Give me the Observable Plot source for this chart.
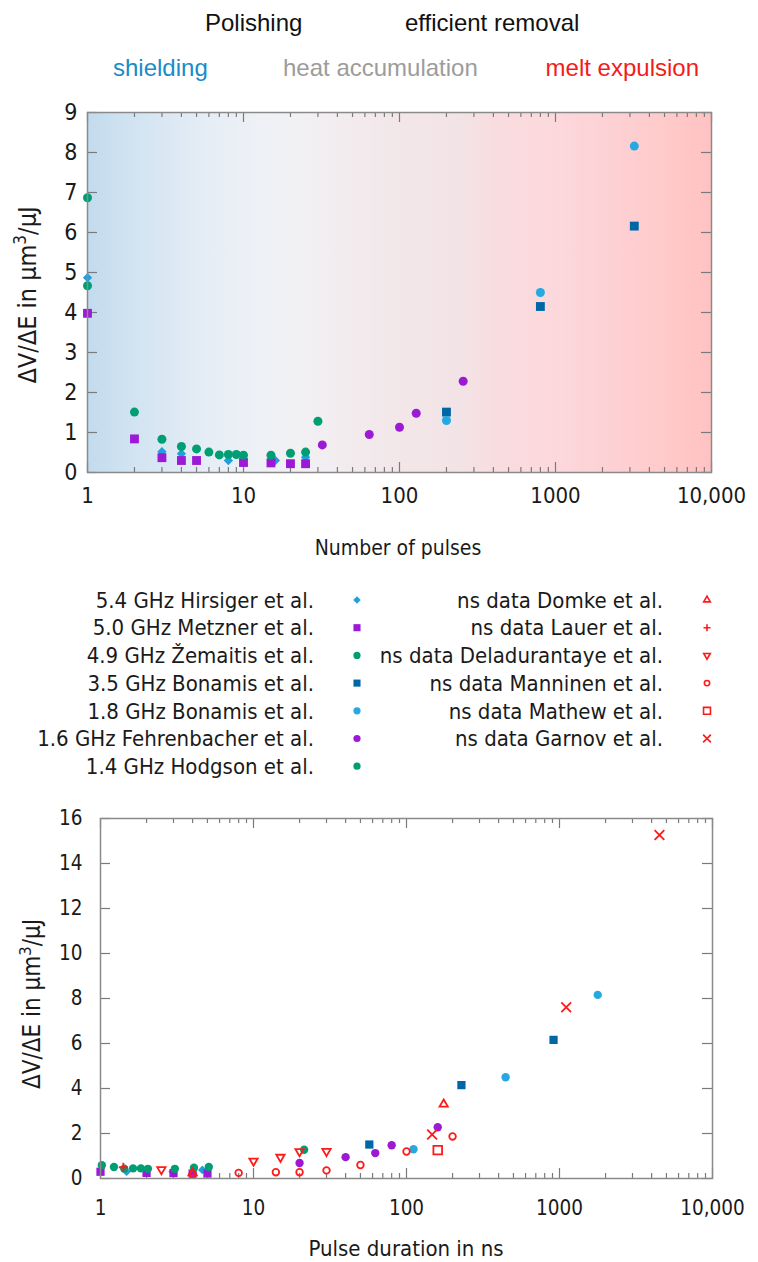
<!DOCTYPE html>
<html>
<head>
<meta charset="utf-8">
<script src="https://cdn.jsdelivr.net/npm/d3@7"></script>
<script src="https://cdn.jsdelivr.net/npm/@observablehq/plot@0.6"></script>
<style>
  html, body { margin: 0; padding: 0; background: #fff; }
  #page { position: relative; width: 758px; height: 1262px; overflow: hidden; background: #fff; }
  #page > svg { position: absolute; left: 0; }
</style>
</head>
<body>
<div id="page"></div>
<script>
// ---------------- data ----------------
// GHz-burst studies: number of pulses in the burst and removal efficiency ΔV/ΔE (µm³/µJ)
const hirsigerPulses = [1, 3, 4, 8, 16, 25];
const hirsigerEff = [4.87, 0.52, 0.47, 0.30, 0.30, 0.38];
const metznerPulses = [1, 2, 3, 4, 5, 10, 15, 20, 25];
const metznerEff = [3.98, 0.84, 0.37, 0.30, 0.30, 0.25, 0.24, 0.22, 0.22];
const zemaitisPulses = [1, 2, 3, 4, 5, 6, 7, 8, 9, 10, 15, 20, 25];
const zemaitisEff = [6.87, 1.51, 0.83, 0.65, 0.59, 0.51, 0.44, 0.45, 0.45, 0.43, 0.43, 0.48, 0.51];
const bonamis35Pulses = [200, 800, 3200];
const bonamis35Eff = [1.51, 4.15, 6.16];
const bonamis18Pulses = [200, 800, 3200];
const bonamis18Eff = [1.30, 4.50, 8.16];
const fehrenbacherPulses = [32, 64, 100, 128, 256];
const fehrenbacherEff = [0.69, 0.95, 1.13, 1.48, 2.28];
const hodgsonPulses = [1, 30];
const hodgsonEff = [4.67, 1.28];

// nanosecond single-pulse studies: pulse duration (ns) and ΔV/ΔE (µm³/µJ)
const domkeDuration = [4, 175];
const domkeEff = [0.25, 3.30];
const lauerDuration = [1.41];
const lauerEff = [0.50];
const deladurantayeDuration = [2.5, 10, 15, 20, 30];
const deladurantayeEff = [0.40, 0.78, 0.95, 1.20, 1.21];
const manninenDuration = [4, 8, 14, 20, 30, 50, 100, 200];
const manninenEff = [0.18, 0.25, 0.28, 0.28, 0.36, 0.60, 1.20, 1.87];
const mathewDuration = [160];
const mathewEff = [1.26];
const garnovDuration = [147, 1106, 4500];
const garnovEff = [1.96, 7.61, 15.27];

// axis ticks
const xTicksMajor = [1, 10, 100, 1000, 10000];
const xTickLabels = ["1", "10", "100", "1000", "10,000"];
const topYTicks = [0, 1, 2, 3, 4, 5, 6, 7, 8, 9];
const bottomYTicks = [0, 2, 4, 6, 8, 10, 12, 14, 16];
const xTicksMinor = [1, 10, 100, 1000].flatMap(d => [2, 3, 4, 5, 6, 7, 8, 9].map(k => d * k));

// process-regime annotations above the first chart
const regimeTop = ["Polishing", "efficient removal"];
const regimeBottom = ["shielding", "heat accumulation", "melt expulsion"];

// ---------------- symbols ----------------
const triangleUp = {
  draw(ctx, size) {
    const r = Math.sqrt(size / Math.PI) * 1.2;
    ctx.moveTo(0, -r);
    ctx.lineTo(r * 0.866, r * 0.5);
    ctx.lineTo(-r * 0.866, r * 0.5);
    ctx.closePath();
  }
};
const triangleDown = {
  draw(ctx, size) {
    const r = Math.sqrt(size / Math.PI) * 1.2;
    ctx.moveTo(0, r);
    ctx.lineTo(r * 0.866, -r * 0.5);
    ctx.lineTo(-r * 0.866, -r * 0.5);
    ctx.closePath();
  }
};

const purple = "#9c1ad6", green = "#009e73", navy = "#0067a6", sky = "#26a9e2", azure = "#1f9fdc", red = "#ff1a1a";

const ghzStudies = [
  {label: "5.4 GHz Hirsiger et al.", ghz: 5.4, pulses: hirsigerPulses, eff: hirsigerEff, symbol: d3.symbolDiamond2, color: azure, r: 4.2},
  {label: "5.0 GHz Metzner et al.", ghz: 5.0, pulses: metznerPulses, eff: metznerEff, symbol: d3.symbolSquare, color: purple, r: 5.0},
  {label: "4.9 GHz Žemaitis et al.", ghz: 4.9, pulses: zemaitisPulses, eff: zemaitisEff, symbol: d3.symbolCircle, color: green, r: 4.5},
  {label: "3.5 GHz Bonamis et al.", ghz: 3.5, pulses: bonamis35Pulses, eff: bonamis35Eff, symbol: d3.symbolSquare, color: navy, r: 5.0},
  {label: "1.8 GHz Bonamis et al.", ghz: 1.8, pulses: bonamis18Pulses, eff: bonamis18Eff, symbol: d3.symbolCircle, color: sky, r: 4.5},
  {label: "1.6 GHz Fehrenbacher et al.", ghz: 1.6, pulses: fehrenbacherPulses, eff: fehrenbacherEff, symbol: d3.symbolCircle, color: purple, r: 4.5},
  {label: "1.4 GHz Hodgson et al.", ghz: 1.4, pulses: hodgsonPulses, eff: hodgsonEff, symbol: d3.symbolCircle, color: green, r: 4.5}
];
const nsStudies = [
  {label: "ns data Domke et al.", duration: domkeDuration, eff: domkeEff, symbol: triangleUp, r: 4.0},
  {label: "ns data Lauer et al.", duration: lauerDuration, eff: lauerEff, symbol: d3.symbolPlus, r: 3.0},
  {label: "ns data Deladurantaye et al.", duration: deladurantayeDuration, eff: deladurantayeEff, symbol: triangleDown, r: 4.0},
  {label: "ns data Manninen et al.", duration: manninenDuration, eff: manninenEff, symbol: d3.symbolCircle, r: 3.3},
  {label: "ns data Mathew et al.", duration: mathewDuration, eff: mathewEff, symbol: d3.symbolSquare2, r: 5.5},
  {label: "ns data Garnov et al.", duration: garnovDuration, eff: garnovEff, symbol: d3.symbolTimes, r: 4.5}
];

// ---------------- shared styling ----------------
const gnuFont = "'DejaVu Sans Condensed', 'DejaVu Sans', sans-serif";
const tickColor = "#7a7a7a";
const frameColor = "#8a8a8a";
const page = d3.select("#page");

// inward gnuplot-style ticks on all four sides
function frameTicks(plotW, plotH, yTicks) {
  const common = {stroke: tickColor, strokeWidth: 1.2};
  return [
    Plot.tickX(xTicksMinor, {x: d => d, insetTop: plotH - 5, ...common}),
    Plot.tickX(xTicksMinor, {x: d => d, insetBottom: plotH - 5, ...common}),
    Plot.tickX(xTicksMajor, {x: d => d, insetTop: plotH - 10, ...common}),
    Plot.tickX(xTicksMajor, {x: d => d, insetBottom: plotH - 10, ...common}),
    Plot.tickY(yTicks, {y: d => d, insetRight: plotW - 10, ...common}),
    Plot.tickY(yTicks, {y: d => d, insetLeft: plotW - 10, ...common})
  ];
}

// ---------------- chart 1: number of pulses ----------------
const t = {top: 80, left: 87, right: 47, mTop: 32, plotH: 360, mBottom: 60};
const tPlotW = 758 - t.left - t.right;

// colour zones: shielding (blue) → heat accumulation (grey) → melt expulsion (red)
const zoneStops = [
  [1, "#c2dbee"], [2, "#d2e4f2"], [5, "#e3ecf5"], [10, "#ecf0f6"], [20, "#f1f1f4"],
  [50, "#f2ebee"], [100, "#f3e6e9"], [250, "#f2e3e6"], [400, "#f8dde0"], [1000, "#fcd8dc"],
  [2500, "#fdd0d3"], [5000, "#ffcaca"], [10000, "#ffc2c2"]
];
const zoneGradient = (index, scales, values, dimensions) => {
  const defs = d3.create("svg:defs");
  const g = defs.append("linearGradient").attr("id", "zoneGradient")
    .attr("x1", 0).attr("x2", 1).attr("y1", 0).attr("y2", 0);
  const x0 = dimensions.marginLeft, x1 = dimensions.width - dimensions.marginRight;
  for (const [at, color] of zoneStops) {
    g.append("stop").attr("offset", (scales.x(at) - x0) / (x1 - x0)).attr("stop-color", color);
  }
  return defs.node();
};

const topChart = Plot.plot({
  width: 758,
  height: t.mTop + t.plotH + t.mBottom,
  marginLeft: t.left, marginRight: t.right, marginTop: t.mTop, marginBottom: t.mBottom,
  style: {fontFamily: gnuFont, fontStretch: "condensed", background: "transparent", overflow: "visible", color: "#1a1a1a"},
  x: {type: "log", domain: [1, 10000]},
  y: {domain: [0, 9]},
  marks: [
    zoneGradient,
    Plot.frame({fill: "url(#zoneGradient)"}),
    ...frameTicks(tPlotW, t.plotH, topYTicks),
    Plot.axisX(xTicksMajor, {tickSize: 0, tickPadding: 15, fontSize: 22, label: null,
      tickFormat: d => xTickLabels[xTicksMajor.indexOf(d)]}),
    Plot.axisY(topYTicks, {tickSize: 0, tickPadding: 10, fontSize: 23, label: null}),
    ...ghzStudies.map(s => Plot.dot(s.pulses, {
      x: s.pulses, y: s.eff, symbol: s.symbol, r: s.r, fill: s.color, stroke: "none"
    })),
    Plot.frame({stroke: frameColor, strokeWidth: 1.5})
  ]
});
d3.select(topChart).style("top", t.top + "px");
page.node().appendChild(topChart);

// ---------------- chart 2: pulse duration ----------------
const b = {top: 790, left: 100, right: 46, mTop: 28, plotH: 360, mBottom: 60};
const bPlotW = 758 - b.left - b.right;
const minDuration = 1;

const bottomChart = Plot.plot({
  width: 758,
  height: b.mTop + b.plotH + b.mBottom,
  marginLeft: b.left, marginRight: b.right, marginTop: b.mTop, marginBottom: b.mBottom,
  style: {fontFamily: gnuFont, fontStretch: "condensed", background: "transparent", overflow: "visible", color: "#1a1a1a"},
  x: {type: "log", domain: [minDuration, 10000]},
  y: {domain: [0, 16]},
  marks: [
    ...frameTicks(bPlotW, b.plotH, bottomYTicks),
    Plot.axisX(xTicksMajor, {tickSize: 0, tickPadding: 22, fontSize: 20.5, label: null,
      tickFormat: d => xTickLabels[xTicksMajor.indexOf(d)]}),
    Plot.axisY(bottomYTicks, {tickSize: 0, tickPadding: 18, fontSize: 20.5, label: null}),
    // burst duration = number of pulses / burst frequency
    ...ghzStudies.map(s => {
      const rows = s.pulses.map((n, i) => ({duration: n / s.ghz, eff: s.eff[i]}))
        .filter(d => d.duration >= minDuration);
      return Plot.dot(rows, {x: "duration", y: "eff", symbol: s.symbol, r: s.r * 0.93, fill: s.color, stroke: "none"});
    }),
    ...nsStudies.map(s => Plot.dot(s.duration, {
      x: s.duration, y: s.eff, symbol: s.symbol, r: s.r, fill: "none", stroke: red, strokeWidth: 1.8
    })),
    Plot.frame({stroke: frameColor, strokeWidth: 1.5})
  ]
});
d3.select(bottomChart).style("top", b.top + "px");
page.node().appendChild(bottomChart);

// ---------------- annotations, axis titles, legend ----------------
const overlay = page.append("svg")
  .attr("width", 758).attr("height", 1262)
  .style("top", "0px").style("pointer-events", "none");

const arial = "'Liberation Sans', Arial, sans-serif";
const regimeColors = ["#1a8bc8", "#9c9c9c", "#f21c1c"];
overlay.selectAll("text.regimeTop").data(regimeTop).join("text")
  .attr("x", (d, i) => [205, 405][i]).attr("y", 31)
  .attr("font-family", arial).attr("font-size", 24).attr("fill", "#111")
  .text(d => d);
overlay.selectAll("text.regimeBottom").data(regimeBottom).join("text")
  .attr("x", (d, i) => [113, 283, 699][i]).attr("y", 76)
  .attr("text-anchor", (d, i) => i === 2 ? "end" : "start")
  .attr("font-family", arial).attr("font-size", 24).attr("fill", (d, i) => regimeColors[i])
  .text(d => d);

function yTitle(cx, cy, size) {
  const txt = overlay.append("text")
    .attr("transform", `translate(${cx},${cy}) rotate(-90)`)
    .attr("text-anchor", "middle").attr("dy", "0.35em")
    .attr("font-family", gnuFont).attr("font-stretch", "condensed")
    .attr("font-size", size).attr("fill", "#1a1a1a");
  txt.append("tspan").text("ΔV/ΔE in μm");
  txt.append("tspan").attr("font-size", size * 0.68).attr("dy", -size * 0.4).text("3");
  txt.append("tspan").attr("dy", size * 0.4).text("/μJ");
}
function xTitle(cx, cy, size, label) {
  overlay.append("text").attr("x", cx).attr("y", cy).attr("dy", "0.35em")
    .attr("text-anchor", "middle").attr("font-family", gnuFont).attr("font-stretch", "condensed")
    .attr("font-size", size).attr("fill", "#1a1a1a").text(label);
}
yTitle(27, 295, 25);
xTitle(398, 548, 21, "Number of pulses");
yTitle(32, 1004, 24);
xTitle(406, 1248, 22, "Pulse duration in ns");

// legend, two columns of right-aligned labels with a sample symbol
const legendRow0 = 600, legendStep = 27.7;
function legendColumn(items, textRight, symbolX, filled) {
  items.forEach((s, i) => {
    const y = legendRow0 + i * legendStep;
    overlay.append("text").attr("x", textRight).attr("y", y).attr("dy", "0.35em")
      .attr("text-anchor", "end").attr("font-family", gnuFont).attr("font-stretch", "condensed")
      .attr("font-size", 22).attr("fill", "#1a1a1a").text(s.label);
    const size = Math.PI * Math.pow(s.r * 0.8, 2);
    overlay.append("path").attr("transform", `translate(${symbolX},${y})`)
      .attr("d", d3.symbol(s.symbol, size)())
      .attr("fill", filled ? s.color : "none")
      .attr("stroke", filled ? "none" : red)
      .attr("stroke-width", filled ? 0 : 1.6);
  });
}
legendColumn(ghzStudies, 314, 357, true);
legendColumn(nsStudies, 663, 707, false);
</script>
</body>
</html>
